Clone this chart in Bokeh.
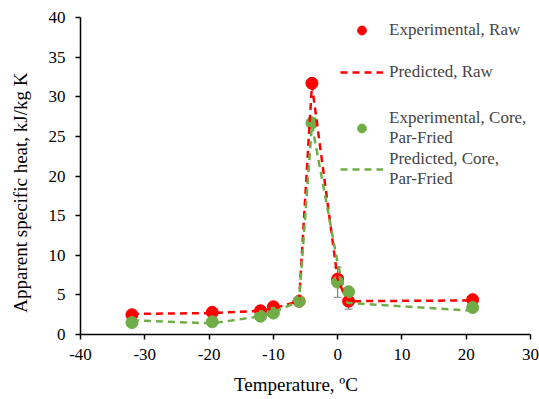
from bokeh.plotting import figure
from bokeh.models import (ColumnDataSource, Whisker, Legend, LegendItem, Range1d, FixedTicker,
                          CustomJSTickFormatter)
from bokeh.embed import file_html
from bokeh.resources import INLINE

# Data
temp_exp = [-32, -19.5, -12, -10, -6, -4, 0, 1.7, 21]
raw_exp = [2.5, 2.8, 3.0, 3.5, 4.2, 31.7, 7.0, 4.2, 4.4]
raw_err = [0.2, 0.2, 0.2, 0.2, 0.2, 0.6, 0.5, 1.0, 0.2]
core_exp = [1.5, 1.6, 2.3, 2.7, 4.2, 26.7, 6.6, 5.4, 3.4]
core_err = [0.2, 0.2, 0.2, 0.2, 0.2, 0.6, 1.9, 0.3, 0.2]

temp_pred_raw = [-32, -19.5, -12, -10, -6, -4, 0, 1.5, 21]
raw_pred = [2.6, 2.7, 3.0, 3.3, 4.2, 31.5, 7.0, 4.2, 4.3]
temp_pred_core = [-32, -19.5, -12, -10, -6, -4, 0, 1.5, 21]
core_pred = [1.8, 1.4, 2.3, 2.8, 4.2, 26.5, 9.0, 4.0, 3.0]

x_ticks = [-40, -30, -20, -10, 0, 10, 20, 30]
y_ticks = [0, 5, 10, 15, 20, 25, 30, 35, 40]

RED = "#ff0000"
GREEN = "#70ad47"
FONT = "Liberation Serif"
NB = "\u00a0"

p = figure(width=539, height=399, output_backend="svg", toolbar_location=None,
           x_range=Range1d(-40, 30), y_range=Range1d(0, 40),
           min_border_left=80, min_border_right=9, min_border_top=17, min_border_bottom=65)
p.grid.visible = False
p.outline_line_color = None

for ax in (p.xaxis[0], p.yaxis[0]):
    ax.axis_line_color = "black"
    ax.axis_line_width = 1.5
    ax.major_tick_line_color = "black"
    ax.major_tick_line_width = 1.5
    ax.major_tick_out = 5
    ax.major_tick_in = 0
    ax.minor_tick_line_color = None
    ax.major_label_text_font = FONT
    ax.major_label_text_font_size = "17px"
    ax.major_label_text_color = "black"
    ax.axis_label_text_font = FONT
    ax.axis_label_text_font_size = "19px"
    ax.axis_label_text_font_style = "normal"
    ax.axis_label_text_color = "black"
    ax.formatter = CustomJSTickFormatter(code="return tick.toString();")

p.xaxis.ticker = FixedTicker(ticks=x_ticks)
p.yaxis.ticker = FixedTicker(ticks=y_ticks)
p.xaxis.axis_label = "Temperature, ºC" + NB * 4
p.yaxis.axis_label = "Apparent specific heat, kJ/kg K" + NB * 7
p.xaxis.major_label_standoff = 9
p.yaxis.major_label_standoff = 10
p.xaxis.axis_label_standoff = 11
p.yaxis.axis_label_standoff = 15

src_raw = ColumnDataSource(dict(x=temp_exp, y=raw_exp,
                                lo=[a - b for a, b in zip(raw_exp, raw_err)],
                                hi=[a + b for a, b in zip(raw_exp, raw_err)]))
src_core = ColumnDataSource(dict(x=temp_exp, y=core_exp,
                                 lo=[a - b for a, b in zip(core_exp, core_err)],
                                 hi=[a + b for a, b in zip(core_exp, core_err)]))

for src in (src_raw, src_core):
    w = Whisker(source=src, base="x", lower="lo", upper="hi", line_color="#7f7f7f", line_width=1.2)
    w.upper_head.line_color = "#7f7f7f"
    w.lower_head.line_color = "#7f7f7f"
    w.upper_head.size = 8
    w.lower_head.size = 8
    p.add_layout(w)

r_exp_raw = p.scatter("x", "y", source=src_raw, size=12, color=RED)
r_exp_core = p.scatter("x", "y", source=src_core, size=12, color=GREEN)
r_pred_raw = p.line(temp_pred_raw, raw_pred, line_color=RED, line_width=2.5, line_dash="7 5")
r_pred_core = p.line(temp_pred_core, core_pred, line_color=GREEN, line_width=2.5, line_dash="7 5")

def make_legend(label, rend, loc):
    lg = Legend(items=[LegendItem(label=label, renderers=[rend])], location=loc,
                background_fill_alpha=0, border_line_color=None,
                label_text_font=FONT, label_text_font_size="17px",
                label_text_line_height=0.95,
                glyph_width=43, glyph_height=22, label_standoff=6,
                padding=0, margin=0, spacing=0, label_height=18)
    p.add_layout(lg)

# legend positions (screen px relative to frame bottom-left)
make_legend("Experimental, Raw", r_exp_raw, (260, 293))
make_legend("Predicted, Raw", r_pred_raw, (260, 251))
make_legend("Experimental, Core,\nPar-Fried", r_exp_core, (260, 186))
make_legend("Predicted, Core,\nPar-Fried", r_pred_core, (260, 145))

open("out.html", "w").write(file_html(p, INLINE))
